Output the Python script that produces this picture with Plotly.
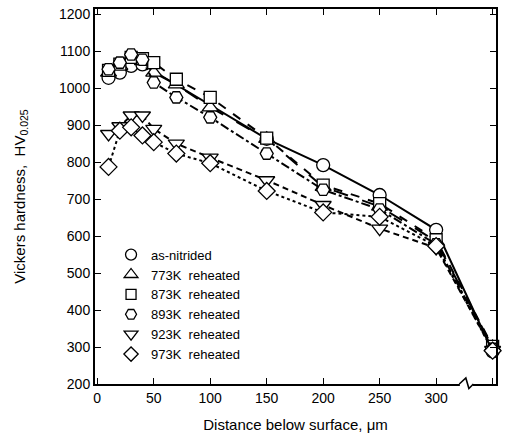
import plotly.graph_objects as go

CORE = 350  # plotted position of the "core" category

x_tick_vals = [0, 50, 100, 150, 200, 250, 300, CORE]
x_tick_text = ["0", "50", "100", "150", "200", "250", "300", "core"]
y_tick_vals = [200, 300, 400, 500, 600, 700, 800, 900, 1000, 1100, 1200]

# as-nitrided
x_asn = [10, 20, 30, 40, 150, 200, 250, 300, CORE]
y_asn = [1028, 1042, 1060, 1064, 863, 792, 711, 617, 288]
# 773K reheated
x_773 = [10, 20, 30, 40, 50, 70, 100, 150, 200, 250, 300, CORE]
y_773 = [1042, 1060, 1077, 1073, 1042, 1010, 948, 863, 733, 680, 586, 300]
# 873K reheated
x_873 = [10, 20, 30, 40, 50, 70, 100, 150, 200, 250, 300, CORE]
y_873 = [1048, 1065, 1083, 1080, 1069, 1024, 975, 865, 738, 688, 590, 302]
# 893K reheated
x_893 = [10, 20, 30, 40, 50, 70, 100, 150, 200, 250, 300, CORE]
y_893 = [1051, 1069, 1091, 1077, 1015, 975, 921, 823, 725, 672, 578, 295]
# 923K reheated
x_923 = [10, 20, 30, 40, 50, 70, 100, 150, 200, 250, 300, CORE]
y_923 = [876, 897, 926, 926, 890, 850, 812, 751, 684, 620, 568, 292]
# 973K reheated
x_973 = [10, 20, 30, 40, 50, 70, 100, 150, 200, 250, 300, CORE]
y_973 = [787, 885, 894, 872, 854, 823, 797, 722, 664, 652, 573, 290]

series = [
    ("as-nitrided", x_asn, y_asn, "circle", "solid", 13),
    ("773K  reheated", x_773, y_773, "triangle-up", "longdash", 14),
    ("873K  reheated", x_873, y_873, "square", "dash", 12),
    ("893K  reheated", x_893, y_893, "hexagon2", "dashdot", 13),
    ("923K  reheated", x_923, y_923, "triangle-down", "6px,4px", 14),
    ("973K  reheated", x_973, y_973, "diamond", "dot", 13),
]

FONT = "Liberation Sans, Arial, sans-serif"
fig = go.Figure()
for name, xs, ys, sym, dash, sz in series:
    fig.add_trace(go.Scatter(
        x=xs, y=ys, mode="lines+markers", showlegend=False,
        line=dict(color="black", width=2, dash=dash),
        marker=dict(symbol=sym, size=sz, color="white",
                    line=dict(color="black", width=1.3)),
        cliponaxis=False,
    ))
for name, xs, ys, sym, dash, sz in series:
    fig.add_trace(go.Scatter(
        x=[None], y=[None], mode="markers", name=name,
        marker=dict(symbol=sym, size=sz - 2, color="white",
                    line=dict(color="black", width=1.3)),
    ))

# axis break symbol on the x axis
fig.add_shape(type="line", xref="x", yref="paper", x0=321, x1=332.5, y0=0, y1=0,
              line=dict(color="white", width=4), layer="above")
fig.add_shape(type="path", xref="x", yref="paper",
              path="M 320.5,0 L 326.3,0.016 L 329,-0.012 L 333,0",
              line=dict(color="black", width=1.6), layer="above")

fig.update_layout(
    width=505, height=441,
    margin=dict(l=95, r=9, t=6, b=57),
    paper_bgcolor="white", plot_bgcolor="white",
    font=dict(family=FONT, size=14, color="black"),
    legend=dict(x=0.04, y=0.385, xanchor="left", yanchor="top",
                bgcolor="rgba(0,0,0,0)", font=dict(size=13),
                itemwidth=30, tracegroupgap=0),
    xaxis=dict(range=[-2, 353], tickvals=x_tick_vals, ticktext=x_tick_text,
               ticks="inside", ticklen=6, tickwidth=1.2, tickcolor="black",
               showline=True, linewidth=2, linecolor="black", mirror="ticks",
               showgrid=False, zeroline=False,
               title=dict(text="Distance below surface, \u03bcm", font=dict(size=15), standoff=15)),
    yaxis=dict(range=[200, 1214], tickvals=y_tick_vals,
               ticks="inside", ticklen=6, tickwidth=1.2, tickcolor="black",
               showline=True, linewidth=2, linecolor="black", mirror="ticks",
               showgrid=False, zeroline=False,
               title=dict(text="Vickers hardness,  HV<sub>0.025</sub>", font=dict(size=15), standoff=30)),
)

fig.write_html("out.html")
